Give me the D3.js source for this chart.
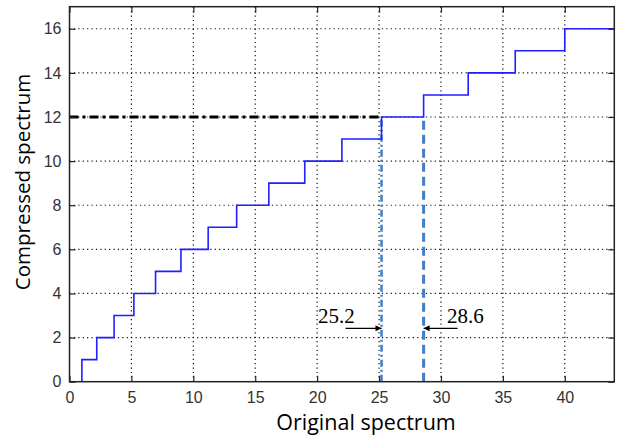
<!DOCTYPE html>
<html>
<head>
<meta charset="utf-8">
<script src="https://cdn.jsdelivr.net/npm/d3@7"></script>
<style>
  body { margin: 0; background: #fff; }
</style>
</head>
<body>
<div id="chart"></div>
<script>
// step edges on the original axis and the level reached at each edge
const stepEdges = [1, 2.2, 3.6, 5.2, 6.95, 9, 11.2, 13.5, 16.1, 19, 22, 25.2, 28.6, 32.2, 36, 40];
const stepLevels = [1, 2, 3, 4, 5, 6, 7, 8, 9, 10, 11, 12, 13, 14, 15, 16];
const xEnd = 44;
const xTicks = [0, 5, 10, 15, 20, 25, 30, 35, 40];
const yTicks = [0, 2, 4, 6, 8, 10, 12, 14, 16];
const markLevel = 12;
const markLow = 25.2;
const markHigh = 28.6;
const arrowLevel = 2.42;

const width = 619;
const height = 439;
const margin = { top: 6.7, right: 4.7, bottom: 57.3, left: 69.5 };
const iw = width - margin.left - margin.right;
const ih = height - margin.top - margin.bottom;

const svg = d3.select("#chart").append("svg")
    .attr("width", width)
    .attr("height", height);

const defs = svg.append("defs");
defs.append("marker")
    .attr("id", "arrow")
    .attr("viewBox", "0 0 10 10")
    .attr("refX", 10).attr("refY", 5)
    .attr("markerWidth", 13).attr("markerHeight", 6)
    .attr("markerUnits", "userSpaceOnUse")
    .attr("orient", "auto")
    .append("path")
    .attr("d", "M0,0 L10,5 L0,10 z")
    .attr("fill", "#000");

const g = svg.append("g").attr("transform", `translate(${margin.left},${margin.top})`);

const x = d3.scaleLinear().domain([0, xEnd]).range([0, iw]);
const y = d3.scaleLinear().domain([0, 17]).range([ih, 0]);

// dotted grid
g.append("g").selectAll("line")
    .data(xTicks.filter(d => d > 0))
    .enter().append("line")
    .attr("x1", d => x(d)).attr("x2", d => x(d))
    .attr("y1", 0).attr("y2", ih)
    .attr("stroke", "#111").attr("stroke-width", 1.2)
    .attr("stroke-dasharray", "1.2,3.2");

g.append("g").selectAll("line")
    .data(yTicks.filter(d => d > 0))
    .enter().append("line")
    .attr("x1", 0).attr("x2", iw)
    .attr("y1", d => y(d)).attr("y2", d => y(d))
    .attr("stroke", "#111").attr("stroke-width", 1.2)
    .attr("stroke-dasharray", "1.2,3.2");

// marker lines
g.append("line")
    .attr("x1", x(0)).attr("x2", x(markLow))
    .attr("y1", y(markLevel)).attr("y2", y(markLevel))
    .attr("stroke", "#000").attr("stroke-width", 3)
    .attr("stroke-dasharray", "9,4,3,4");

g.append("line")
    .attr("x1", x(markLow)).attr("x2", x(markLow))
    .attr("y1", y(0)).attr("y2", y(markLevel))
    .attr("stroke", "#3f7ec4").attr("stroke-width", 2.5)
    .attr("stroke-dasharray", "7,3,2,3");

g.append("line")
    .attr("x1", x(markHigh)).attr("x2", x(markHigh))
    .attr("y1", y(0)).attr("y2", y(markLevel))
    .attr("stroke", "#3f7ec4").attr("stroke-width", 3)
    .attr("stroke-dasharray", "9,5");

// staircase
const pts = [[stepEdges[0], 0]]
    .concat(stepEdges.map((e, i) => [e, stepLevels[i]]))
    .concat([[xEnd, stepLevels[stepLevels.length - 1]]]);

const line = d3.line()
    .x(d => x(d[0]))
    .y(d => y(d[1]))
    .curve(d3.curveStepAfter);

g.append("path")
    .datum(pts)
    .attr("d", line)
    .attr("fill", "none")
    .attr("stroke", "#1f1fff")
    .attr("stroke-width", 1.6);

// annotations
g.append("line")
    .attr("x1", x(markLow) - 36).attr("x2", x(markLow))
    .attr("y1", y(arrowLevel)).attr("y2", y(arrowLevel))
    .attr("stroke", "#000").attr("stroke-width", 1.3)
    .attr("marker-end", "url(#arrow)");

g.append("line")
    .attr("x1", x(markHigh) + 34).attr("x2", x(markHigh))
    .attr("y1", y(arrowLevel)).attr("y2", y(arrowLevel))
    .attr("stroke", "#000").attr("stroke-width", 1.3)
    .attr("marker-end", "url(#arrow)");

g.append("text")
    .attr("x", x(markLow) - 63.5).attr("y", y(arrowLevel) - 5.5)
    .style("font-family", "'Liberation Serif', 'Times New Roman', serif")
    .style("font-size", "21px")
    .text(markLow);

g.append("text")
    .attr("x", x(markHigh) + 23.5).attr("y", y(arrowLevel) - 5.5)
    .style("font-family", "'Liberation Serif', 'Times New Roman', serif")
    .style("font-size", "21px")
    .text(markHigh);

// axes (box with inward ticks)
const tickStyle = sel => {
    sel.select(".domain").remove();
    sel.selectAll(".tick line").attr("stroke", "#222").attr("stroke-width", 1.2);
    sel.selectAll("text")
        .style("font-family", "'Liberation Sans', Arial, sans-serif")
        .style("font-size", "16px")
        .attr("fill", "#333");
};

g.append("g").attr("transform", `translate(0,${ih})`)
    .call(d3.axisBottom(x).tickValues(xTicks).tickSizeInner(-6).tickSizeOuter(0).tickPadding(10))
    .call(tickStyle);
g.append("g")
    .call(d3.axisTop(x).tickValues(xTicks).tickSizeInner(-6).tickSizeOuter(0).tickFormat(""))
    .call(tickStyle);
g.append("g")
    .call(d3.axisLeft(y).tickValues(yTicks).tickSizeInner(-6).tickSizeOuter(0).tickPadding(8))
    .call(tickStyle);
g.append("g").attr("transform", `translate(${iw},0)`)
    .call(d3.axisRight(y).tickValues(yTicks).tickSizeInner(-6).tickSizeOuter(0).tickFormat(""))
    .call(tickStyle);

g.append("rect")
    .attr("width", iw).attr("height", ih)
    .attr("fill", "none")
    .attr("stroke", "#222").attr("stroke-width", 1.5);

// titles
svg.append("text")
    .attr("x", 366).attr("y", 430)
    .attr("text-anchor", "middle")
    .style("font-family", "'Open Sans', sans-serif")
    .style("font-size", "21.5px")
    .text("Original spectrum");

svg.append("text")
    .attr("transform", "translate(30,182) rotate(-90)")
    .attr("text-anchor", "middle")
    .style("font-family", "'Open Sans', sans-serif")
    .style("font-size", "20.5px")
    .text("Compressed spectrum");
</script>
</body>
</html>
